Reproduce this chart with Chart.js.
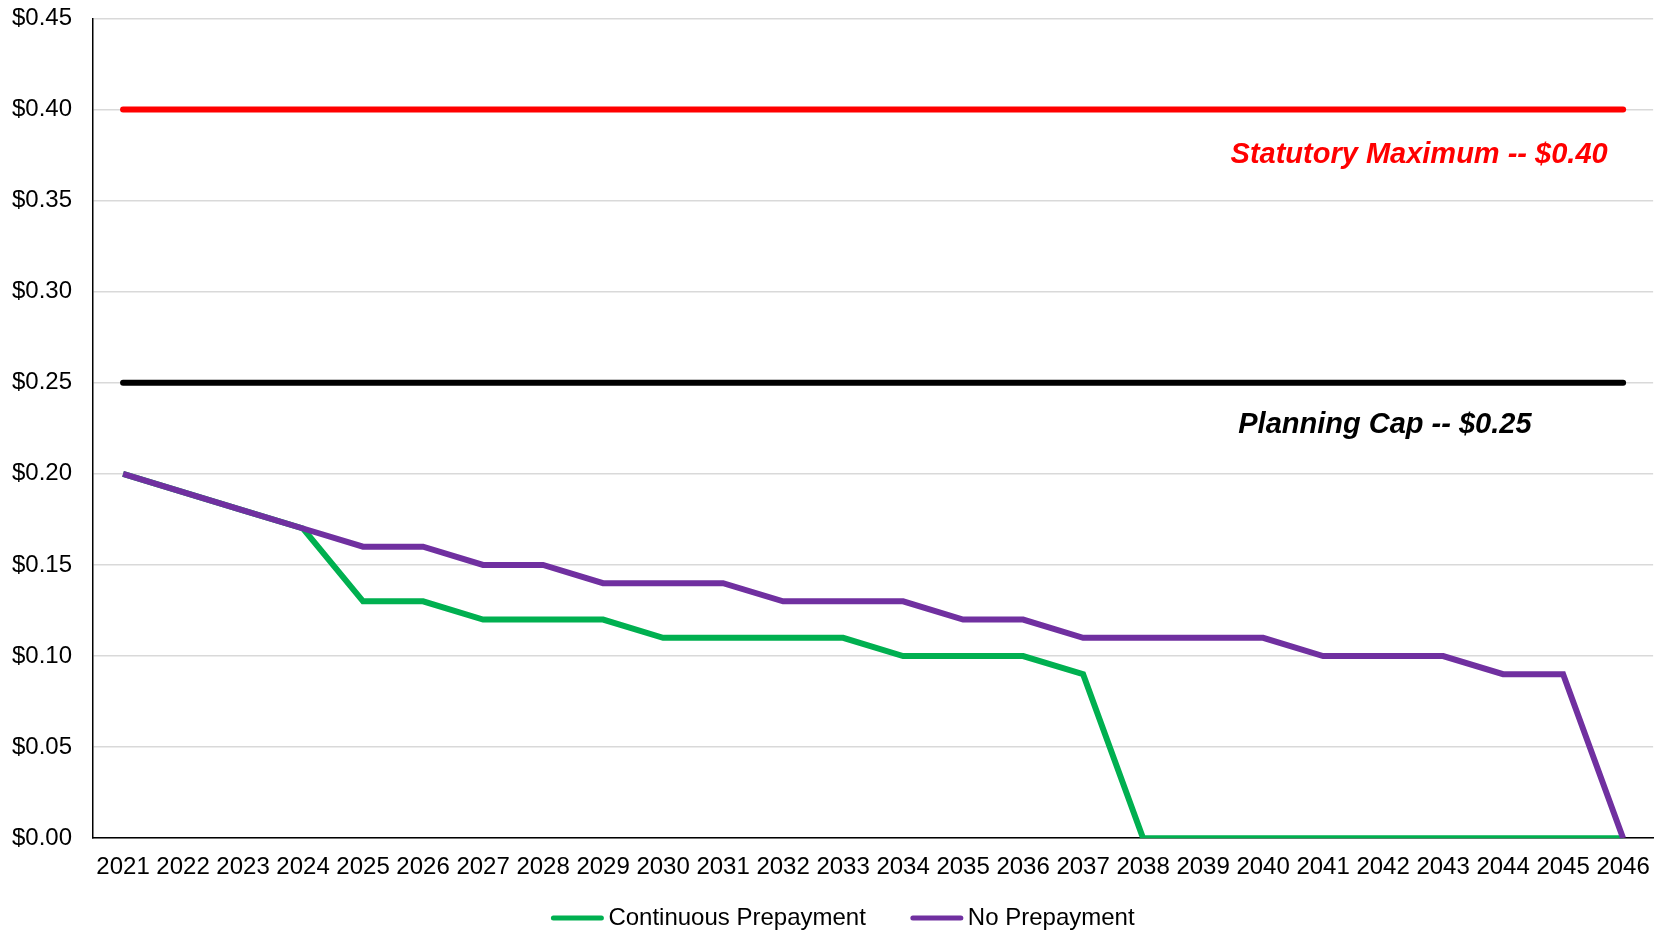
<!DOCTYPE html>
<html>
<head>
<meta charset="utf-8">
<script src="https://cdn.jsdelivr.net/npm/chart.js@4/dist/chart.umd.min.js"></script>
<style>
  html, body { margin: 0; padding: 0; background: #fff; }
  #outer { width: 1665px; height: 937px; overflow: hidden; }
  #wrap { width: 1665px; height: 954px; margin-top: -17px; }
</style>
</head>
<body>
<div id="outer"><div id="wrap"><canvas id="chart"></canvas></div></div>
<script>
// Datos
const years = ['2021','2022','2023','2024','2025','2026','2027','2028','2029','2030','2031','2032','2033',
               '2034','2035','2036','2037','2038','2039','2040','2041','2042','2043','2044','2045','2046'];
const continuousPrepayment = [0.20,0.19,0.18,0.17,0.13,0.13,0.12,0.12,0.12,0.11,0.11,0.11,0.11,
                              0.10,0.10,0.10,0.09,0,0,0,0,0,0,0,0,0];
const noPrepayment = [0.20,0.19,0.18,0.17,0.16,0.16,0.15,0.15,0.14,0.14,0.14,0.13,0.13,
                      0.13,0.12,0.12,0.11,0.11,0.11,0.11,0.10,0.10,0.10,0.09,0.09,0];
const statutoryMax = 0.40;
const planningCap = 0.25;
const yTicks = [0, 0.05, 0.10, 0.15, 0.20, 0.25, 0.30, 0.35, 0.40, 0.45];

// Etiquetas de las líneas de referencia
const refLabels = [
    { text: 'Statutory Maximum -- $0.40', color: '#ff0000', x: 21.6, y: 0.375 },
    { text: 'Planning Cap -- $0.25', color: '#000000', x: 21.03, y: 0.227 }
];

const FONT = '"Liberation Sans", Arial, sans-serif';

const refLabelPlugin = {
    id: 'refLabels',
    afterDatasetsDraw(chart) {
        const ctx = chart.ctx;
        const xs = chart.scales.x;
        const ys = chart.scales.y;
        ctx.save();
        ctx.font = 'italic bold 29px ' + FONT;
        ctx.textAlign = 'center';
        ctx.textBaseline = 'middle';
        refLabels.forEach(l => {
            ctx.fillStyle = l.color;
            ctx.fillText(l.text, xs.getPixelForValue(l.x), ys.getPixelForValue(l.y));
        });
        ctx.restore();
    }
};

// Leyenda dibujada a mano (solo las dos series)
const lineLegendPlugin = {
    id: 'lineLegend',
    afterDraw(chart) {
        const ctx = chart.ctx;
        const sets = chart.data.datasets.slice(0, 2);
        const sample = 54, gapText = 4, gapItem = 44;
        ctx.save();
        ctx.font = '24px ' + FONT;
        const widths = sets.map(d => sample + gapText + ctx.measureText(d.label).width);
        const total = widths.reduce((a, b) => a + b, 0) + gapItem * (sets.length - 1);
        let x = chart.width / 2 + 10 - total / 2;
        const y = chart.height - 19;
        ctx.textBaseline = 'middle';
        ctx.textAlign = 'left';
        sets.forEach((d, i) => {
            ctx.strokeStyle = d.borderColor;
            ctx.lineWidth = 5;
            ctx.lineCap = 'round';
            ctx.beginPath();
            ctx.moveTo(x + 3, y);
            ctx.lineTo(x + sample - 3, y);
            ctx.stroke();
            ctx.fillStyle = '#000';
            ctx.fillText(d.label, x + sample + gapText, y);
            x += widths[i] + gapItem;
        });
        ctx.restore();
    }
};

Chart.defaults.font.family = FONT;
Chart.defaults.font.size = 24;
Chart.defaults.color = '#000';

new Chart(document.getElementById('chart'), {
    type: 'line',
    data: {
        labels: years,
        datasets: [
            {
                label: 'Continuous Prepayment',
                data: continuousPrepayment,
                borderColor: '#00b050',
                backgroundColor: '#00b050',
                borderWidth: 6,
                order: 2
            },
            {
                label: 'No Prepayment',
                data: noPrepayment,
                borderColor: '#7030a0',
                backgroundColor: '#7030a0',
                borderWidth: 6,
                order: 1
            },
            {
                label: 'Statutory Maximum',
                data: years.map(() => statutoryMax),
                borderColor: '#ff0000',
                backgroundColor: '#ff0000',
                borderWidth: 6,
                borderCapStyle: 'round',
                order: 3
            },
            {
                label: 'Planning Cap',
                data: years.map(() => planningCap),
                borderColor: '#000000',
                backgroundColor: '#000000',
                borderWidth: 6,
                borderCapStyle: 'round',
                order: 4
            }
        ]
    },
    options: {
        responsive: true,
        maintainAspectRatio: false,
        animation: false,
        elements: { point: { radius: 0, hoverRadius: 0 }, line: { tension: 0, borderJoinStyle: 'miter' } },
        layout: { padding: { left: -9, right: 10, top: 0, bottom: 40 } },
        plugins: {
            tooltip: { enabled: false },
            legend: { display: false }
        },
        scales: {
            x: {
                offset: true,
                grid: { display: false, drawTicks: false },
                border: { color: '#000', width: 1.5 },
                ticks: { padding: 15, maxRotation: 0, autoSkip: false }
            },
            y: {
                min: 0,
                max: 0.45,
                afterBuildTicks: axis => { axis.ticks = yTicks.map(v => ({ value: v })); },
                grid: { color: '#d9d9d9', lineWidth: 1.5, drawTicks: false },
                border: { color: '#000', width: 1.5 },
                ticks: {
                    padding: 21,
                    callback: v => '$' + Number(v).toFixed(2)
                }
            }
        }
    },
    plugins: [refLabelPlugin, lineLegendPlugin]
});
</script>
</body>
</html>
